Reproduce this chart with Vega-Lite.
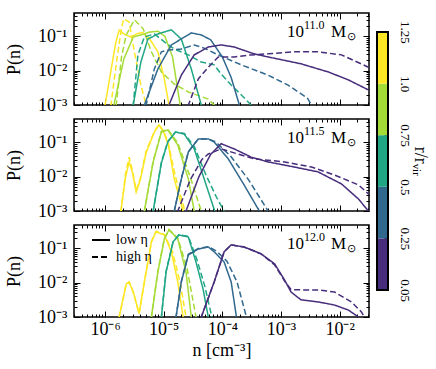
{
"$schema": "https://vega.github.io/schema/vega-lite/v6.json",
"background": "white",
"padding": {"left": 4, "top": 11, "right": 2, "bottom": 2},
"config": {
  "font": "Liberation Serif",
  "view": {"stroke": "black", "strokeWidth": 1.5},
  "axis": {"grid": false, "domain": false, "tickColor": "black", "labelColor": "black", "titleColor": "black", "titleFontWeight": "normal", "labelFont": "Liberation Serif", "titleFont": "Liberation Serif", "labelFlush": false, "labelOverlap": false, "tickWidth": 1, "minExtent": 0},
  "text": {"font": "Liberation Serif", "color": "black"}
},
"datasets": {"curves": [
{"m":"11.0","r":"1.0-1.25","eta":"low η","x":-6.03,"y":-3.3},{"m":"11.0","r":"1.0-1.25","eta":"low η","x":-6.0,"y":-3},{"m":"11.0","r":"1.0-1.25","eta":"low η","x":-5.9,"y":-2.0},{"m":"11.0","r":"1.0-1.25","eta":"low η","x":-5.82,"y":-1.2},{"m":"11.0","r":"1.0-1.25","eta":"low η","x":-5.76,"y":-0.82},{"m":"11.0","r":"1.0-1.25","eta":"low η","x":-5.66,"y":-0.95},{"m":"11.0","r":"1.0-1.25","eta":"low η","x":-5.56,"y":-1.02},{"m":"11.0","r":"1.0-1.25","eta":"low η","x":-5.45,"y":-0.92},{"m":"11.0","r":"1.0-1.25","eta":"low η","x":-5.36,"y":-0.89},{"m":"11.0","r":"1.0-1.25","eta":"low η","x":-5.25,"y":-1.05},{"m":"11.0","r":"1.0-1.25","eta":"low η","x":-5.1,"y":-1.45},{"m":"11.0","r":"1.0-1.25","eta":"low η","x":-4.99,"y":-2.24},{"m":"11.0","r":"1.0-1.25","eta":"low η","x":-4.91,"y":-3},{"m":"11.0","r":"1.0-1.25","eta":"low η","x":-4.89,"y":-3.3},
{"m":"11.0","r":"1.0-1.25","eta":"high η","x":-5.93,"y":-3.3},{"m":"11.0","r":"1.0-1.25","eta":"high η","x":-5.9,"y":-3},{"m":"11.0","r":"1.0-1.25","eta":"high η","x":-5.84,"y":-2.2},{"m":"11.0","r":"1.0-1.25","eta":"high η","x":-5.78,"y":-1.45},{"m":"11.0","r":"1.0-1.25","eta":"high η","x":-5.72,"y":-0.75},{"m":"11.0","r":"1.0-1.25","eta":"high η","x":-5.68,"y":-0.49},{"m":"11.0","r":"1.0-1.25","eta":"high η","x":-5.59,"y":-0.58},{"m":"11.0","r":"1.0-1.25","eta":"high η","x":-5.5,"y":-1.45},{"m":"11.0","r":"1.0-1.25","eta":"high η","x":-5.39,"y":-2.42},{"m":"11.0","r":"1.0-1.25","eta":"high η","x":-5.3,"y":-3},{"m":"11.0","r":"1.0-1.25","eta":"high η","x":-5.27,"y":-3.3},
{"m":"11.0","r":"0.75-1.0","eta":"low η","x":-5.87,"y":-3.3},{"m":"11.0","r":"0.75-1.0","eta":"low η","x":-5.85,"y":-3},{"m":"11.0","r":"0.75-1.0","eta":"low η","x":-5.68,"y":-1.66},{"m":"11.0","r":"0.75-1.0","eta":"low η","x":-5.52,"y":-1.02},{"m":"11.0","r":"0.75-1.0","eta":"low η","x":-5.39,"y":-0.96},{"m":"11.0","r":"0.75-1.0","eta":"low η","x":-5.25,"y":-0.88},{"m":"11.0","r":"0.75-1.0","eta":"low η","x":-5.1,"y":-0.85},{"m":"11.0","r":"0.75-1.0","eta":"low η","x":-4.98,"y":-1.0},{"m":"11.0","r":"0.75-1.0","eta":"low η","x":-4.85,"y":-1.6},{"m":"11.0","r":"0.75-1.0","eta":"low η","x":-4.72,"y":-3},{"m":"11.0","r":"0.75-1.0","eta":"low η","x":-4.7,"y":-3.3},
{"m":"11.0","r":"0.75-1.0","eta":"high η","x":-5.83,"y":-3.3},{"m":"11.0","r":"0.75-1.0","eta":"high η","x":-5.81,"y":-3},{"m":"11.0","r":"0.75-1.0","eta":"high η","x":-5.72,"y":-1.6},{"m":"11.0","r":"0.75-1.0","eta":"high η","x":-5.64,"y":-0.96},{"m":"11.0","r":"0.75-1.0","eta":"high η","x":-5.5,"y":-0.52},{"m":"11.0","r":"0.75-1.0","eta":"high η","x":-5.35,"y":-0.78},{"m":"11.0","r":"0.75-1.0","eta":"high η","x":-5.21,"y":-1.45},{"m":"11.0","r":"0.75-1.0","eta":"high η","x":-5.04,"y":-2.04},{"m":"11.0","r":"0.75-1.0","eta":"high η","x":-4.82,"y":-2.39},{"m":"11.0","r":"0.75-1.0","eta":"high η","x":-4.58,"y":-2.62},{"m":"11.0","r":"0.75-1.0","eta":"high η","x":-4.24,"y":-2.83},{"m":"11.0","r":"0.75-1.0","eta":"high η","x":-4.14,"y":-3},{"m":"11.0","r":"0.75-1.0","eta":"high η","x":-4.1,"y":-3.3},
{"m":"11.0","r":"0.5-0.75","eta":"low η","x":-5.54,"y":-3.3},{"m":"11.0","r":"0.5-0.75","eta":"low η","x":-5.52,"y":-3},{"m":"11.0","r":"0.5-0.75","eta":"low η","x":-5.39,"y":-1.75},{"m":"11.0","r":"0.5-0.75","eta":"low η","x":-5.27,"y":-1.08},{"m":"11.0","r":"0.5-0.75","eta":"low η","x":-5.1,"y":-0.93},{"m":"11.0","r":"0.5-0.75","eta":"low η","x":-4.87,"y":-0.81},{"m":"11.0","r":"0.5-0.75","eta":"low η","x":-4.7,"y":-1.08},{"m":"11.0","r":"0.5-0.75","eta":"low η","x":-4.53,"y":-1.95},{"m":"11.0","r":"0.5-0.75","eta":"low η","x":-4.36,"y":-3},{"m":"11.0","r":"0.5-0.75","eta":"low η","x":-4.33,"y":-3.3},
{"m":"11.0","r":"0.5-0.75","eta":"high η","x":-5.54,"y":-3.3},{"m":"11.0","r":"0.5-0.75","eta":"high η","x":-5.52,"y":-3},{"m":"11.0","r":"0.5-0.75","eta":"high η","x":-5.44,"y":-1.54},{"m":"11.0","r":"0.5-0.75","eta":"high η","x":-5.33,"y":-1.02},{"m":"11.0","r":"0.5-0.75","eta":"high η","x":-5.16,"y":-0.93},{"m":"11.0","r":"0.5-0.75","eta":"high η","x":-4.99,"y":-1.16},{"m":"11.0","r":"0.5-0.75","eta":"high η","x":-4.82,"y":-1.37},{"m":"11.0","r":"0.5-0.75","eta":"high η","x":-4.58,"y":-1.54},{"m":"11.0","r":"0.5-0.75","eta":"high η","x":-4.36,"y":-1.75},{"m":"11.0","r":"0.5-0.75","eta":"high η","x":-4.14,"y":-1.83},{"m":"11.0","r":"0.5-0.75","eta":"high η","x":-4.02,"y":-2.1},{"m":"11.0","r":"0.5-0.75","eta":"high η","x":-3.85,"y":-2.42},{"m":"11.0","r":"0.5-0.75","eta":"high η","x":-3.68,"y":-2.7},{"m":"11.0","r":"0.5-0.75","eta":"high η","x":-3.51,"y":-3},{"m":"11.0","r":"0.5-0.75","eta":"high η","x":-3.48,"y":-3.3},
{"m":"11.0","r":"0.25-0.5","eta":"low η","x":-5.35,"y":-3.3},{"m":"11.0","r":"0.25-0.5","eta":"low η","x":-5.33,"y":-3},{"m":"11.0","r":"0.25-0.5","eta":"low η","x":-5.1,"y":-1.95},{"m":"11.0","r":"0.25-0.5","eta":"low η","x":-4.87,"y":-1.25},{"m":"11.0","r":"0.25-0.5","eta":"low η","x":-4.53,"y":-0.9},{"m":"11.0","r":"0.25-0.5","eta":"low η","x":-4.36,"y":-0.96},{"m":"11.0","r":"0.25-0.5","eta":"low η","x":-4.2,"y":-1.1},{"m":"11.0","r":"0.25-0.5","eta":"low η","x":-4.0,"y":-1.6},{"m":"11.0","r":"0.25-0.5","eta":"low η","x":-3.85,"y":-2.2},{"m":"11.0","r":"0.25-0.5","eta":"low η","x":-3.71,"y":-3},{"m":"11.0","r":"0.25-0.5","eta":"low η","x":-3.68,"y":-3.3},
{"m":"11.0","r":"0.25-0.5","eta":"high η","x":-5.33,"y":-3.3},{"m":"11.0","r":"0.25-0.5","eta":"high η","x":-5.3,"y":-3},{"m":"11.0","r":"0.25-0.5","eta":"high η","x":-5.16,"y":-1.95},{"m":"11.0","r":"0.25-0.5","eta":"high η","x":-5.04,"y":-1.45},{"m":"11.0","r":"0.25-0.5","eta":"high η","x":-4.92,"y":-1.4},{"m":"11.0","r":"0.25-0.5","eta":"high η","x":-4.7,"y":-1.37},{"m":"11.0","r":"0.25-0.5","eta":"high η","x":-4.48,"y":-1.25},{"m":"11.0","r":"0.25-0.5","eta":"high η","x":-4.3,"y":-1.35},{"m":"11.0","r":"0.25-0.5","eta":"high η","x":-4.1,"y":-1.52},{"m":"11.0","r":"0.25-0.5","eta":"high η","x":-3.68,"y":-1.83},{"m":"11.0","r":"0.25-0.5","eta":"high η","x":-3.22,"y":-2.13},{"m":"11.0","r":"0.25-0.5","eta":"high η","x":-2.88,"y":-2.42},{"m":"11.0","r":"0.25-0.5","eta":"high η","x":-2.55,"y":-2.8},{"m":"11.0","r":"0.25-0.5","eta":"high η","x":-2.48,"y":-3},{"m":"11.0","r":"0.25-0.5","eta":"high η","x":-2.45,"y":-3.3},
{"m":"11.0","r":"0.05-0.25","eta":"low η","x":-4.93,"y":-3.3},{"m":"11.0","r":"0.05-0.25","eta":"low η","x":-4.91,"y":-3},{"m":"11.0","r":"0.05-0.25","eta":"low η","x":-4.7,"y":-2.13},{"m":"11.0","r":"0.05-0.25","eta":"low η","x":-4.48,"y":-1.54},{"m":"11.0","r":"0.05-0.25","eta":"low η","x":-4.24,"y":-1.31},{"m":"11.0","r":"0.05-0.25","eta":"low η","x":-4.02,"y":-1.25},{"m":"11.0","r":"0.05-0.25","eta":"low η","x":-3.8,"y":-1.31},{"m":"11.0","r":"0.05-0.25","eta":"low η","x":-3.46,"y":-1.51},{"m":"11.0","r":"0.05-0.25","eta":"low η","x":-3.22,"y":-1.6},{"m":"11.0","r":"0.05-0.25","eta":"low η","x":-2.66,"y":-1.8},{"m":"11.0","r":"0.05-0.25","eta":"low η","x":-2.19,"y":-2.04},{"m":"11.0","r":"0.05-0.25","eta":"low η","x":-1.85,"y":-2.27},{"m":"11.0","r":"0.05-0.25","eta":"low η","x":-1.51,"y":-2.56},{"m":"11.0","r":"0.05-0.25","eta":"low η","x":-1.45,"y":-2.6},
{"m":"11.0","r":"0.05-0.25","eta":"high η","x":-4.6,"y":-3.3},{"m":"11.0","r":"0.05-0.25","eta":"high η","x":-4.58,"y":-3},{"m":"11.0","r":"0.05-0.25","eta":"high η","x":-4.41,"y":-2.24},{"m":"11.0","r":"0.05-0.25","eta":"high η","x":-4.24,"y":-1.9},{"m":"11.0","r":"0.05-0.25","eta":"high η","x":-4.07,"y":-1.6},{"m":"11.0","r":"0.05-0.25","eta":"high η","x":-3.8,"y":-1.6},{"m":"11.0","r":"0.05-0.25","eta":"high η","x":-3.51,"y":-1.54},{"m":"11.0","r":"0.05-0.25","eta":"high η","x":-3.22,"y":-1.51},{"m":"11.0","r":"0.05-0.25","eta":"high η","x":-2.77,"y":-1.45},{"m":"11.0","r":"0.05-0.25","eta":"high η","x":-2.37,"y":-1.45},{"m":"11.0","r":"0.05-0.25","eta":"high η","x":-1.97,"y":-1.54},{"m":"11.0","r":"0.05-0.25","eta":"high η","x":-1.51,"y":-1.9},{"m":"11.0","r":"0.05-0.25","eta":"high η","x":-1.45,"y":-1.95},
{"m":"11.5","r":"1.0-1.25","eta":"low η","x":-5.75,"y":-3.3},{"m":"11.5","r":"1.0-1.25","eta":"low η","x":-5.73,"y":-3},{"m":"11.5","r":"1.0-1.25","eta":"low η","x":-5.65,"y":-2.0},{"m":"11.5","r":"1.0-1.25","eta":"low η","x":-5.59,"y":-1.57},{"m":"11.5","r":"1.0-1.25","eta":"low η","x":-5.53,"y":-1.9},{"m":"11.5","r":"1.0-1.25","eta":"low η","x":-5.47,"y":-2.45},{"m":"11.5","r":"1.0-1.25","eta":"low η","x":-5.4,"y":-2.1},{"m":"11.5","r":"1.0-1.25","eta":"low η","x":-5.3,"y":-1.3},{"m":"11.5","r":"1.0-1.25","eta":"low η","x":-5.16,"y":-0.7},{"m":"11.5","r":"1.0-1.25","eta":"low η","x":-5.08,"y":-0.49},{"m":"11.5","r":"1.0-1.25","eta":"low η","x":-4.99,"y":-0.75},{"m":"11.5","r":"1.0-1.25","eta":"low η","x":-4.92,"y":-1.08},{"m":"11.5","r":"1.0-1.25","eta":"low η","x":-4.82,"y":-2.07},{"m":"11.5","r":"1.0-1.25","eta":"low η","x":-4.67,"y":-3},{"m":"11.5","r":"1.0-1.25","eta":"low η","x":-4.64,"y":-3.3},
{"m":"11.5","r":"1.0-1.25","eta":"high η","x":-5.75,"y":-3.3},{"m":"11.5","r":"1.0-1.25","eta":"high η","x":-5.73,"y":-3},{"m":"11.5","r":"1.0-1.25","eta":"high η","x":-5.65,"y":-1.9},{"m":"11.5","r":"1.0-1.25","eta":"high η","x":-5.59,"y":-1.43},{"m":"11.5","r":"1.0-1.25","eta":"high η","x":-5.53,"y":-1.85},{"m":"11.5","r":"1.0-1.25","eta":"high η","x":-5.47,"y":-2.4},{"m":"11.5","r":"1.0-1.25","eta":"high η","x":-5.4,"y":-2.05},{"m":"11.5","r":"1.0-1.25","eta":"high η","x":-5.3,"y":-1.25},{"m":"11.5","r":"1.0-1.25","eta":"high η","x":-5.16,"y":-0.68},{"m":"11.5","r":"1.0-1.25","eta":"high η","x":-5.08,"y":-0.48},{"m":"11.5","r":"1.0-1.25","eta":"high η","x":-4.99,"y":-0.72},{"m":"11.5","r":"1.0-1.25","eta":"high η","x":-4.92,"y":-1.05},{"m":"11.5","r":"1.0-1.25","eta":"high η","x":-4.8,"y":-2.0},{"m":"11.5","r":"1.0-1.25","eta":"high η","x":-4.64,"y":-3},{"m":"11.5","r":"1.0-1.25","eta":"high η","x":-4.61,"y":-3.3},
{"m":"11.5","r":"0.75-1.0","eta":"low η","x":-5.35,"y":-3.3},{"m":"11.5","r":"0.75-1.0","eta":"low η","x":-5.33,"y":-3},{"m":"11.5","r":"0.75-1.0","eta":"low η","x":-5.18,"y":-1.57},{"m":"11.5","r":"0.75-1.0","eta":"low η","x":-5.04,"y":-0.7},{"m":"11.5","r":"0.75-1.0","eta":"low η","x":-4.93,"y":-0.64},{"m":"11.5","r":"0.75-1.0","eta":"low η","x":-4.76,"y":-1.08},{"m":"11.5","r":"0.75-1.0","eta":"low η","x":-4.58,"y":-2.07},{"m":"11.5","r":"0.75-1.0","eta":"low η","x":-4.48,"y":-3},{"m":"11.5","r":"0.75-1.0","eta":"low η","x":-4.45,"y":-3.3},
{"m":"11.5","r":"0.75-1.0","eta":"high η","x":-5.35,"y":-3.3},{"m":"11.5","r":"0.75-1.0","eta":"high η","x":-5.33,"y":-3},{"m":"11.5","r":"0.75-1.0","eta":"high η","x":-5.18,"y":-1.55},{"m":"11.5","r":"0.75-1.0","eta":"high η","x":-5.04,"y":-0.68},{"m":"11.5","r":"0.75-1.0","eta":"high η","x":-4.93,"y":-0.62},{"m":"11.5","r":"0.75-1.0","eta":"high η","x":-4.76,"y":-1.02},{"m":"11.5","r":"0.75-1.0","eta":"high η","x":-4.56,"y":-1.95},{"m":"11.5","r":"0.75-1.0","eta":"high η","x":-4.36,"y":-3},{"m":"11.5","r":"0.75-1.0","eta":"high η","x":-4.33,"y":-3.3},
{"m":"11.5","r":"0.5-0.75","eta":"low η","x":-5.2,"y":-3.3},{"m":"11.5","r":"0.5-0.75","eta":"low η","x":-5.18,"y":-3},{"m":"11.5","r":"0.5-0.75","eta":"low η","x":-5.04,"y":-1.6},{"m":"11.5","r":"0.5-0.75","eta":"low η","x":-4.93,"y":-0.99},{"m":"11.5","r":"0.5-0.75","eta":"low η","x":-4.8,"y":-0.7},{"m":"11.5","r":"0.5-0.75","eta":"low η","x":-4.65,"y":-0.76},{"m":"11.5","r":"0.5-0.75","eta":"low η","x":-4.48,"y":-1.19},{"m":"11.5","r":"0.5-0.75","eta":"low η","x":-4.31,"y":-2.07},{"m":"11.5","r":"0.5-0.75","eta":"low η","x":-4.14,"y":-2.95},{"m":"11.5","r":"0.5-0.75","eta":"low η","x":-4.07,"y":-3.3},
{"m":"11.5","r":"0.5-0.75","eta":"high η","x":-5.2,"y":-3.3},{"m":"11.5","r":"0.5-0.75","eta":"high η","x":-5.18,"y":-3},{"m":"11.5","r":"0.5-0.75","eta":"high η","x":-5.04,"y":-1.58},{"m":"11.5","r":"0.5-0.75","eta":"high η","x":-4.93,"y":-0.97},{"m":"11.5","r":"0.5-0.75","eta":"high η","x":-4.8,"y":-0.7},{"m":"11.5","r":"0.5-0.75","eta":"high η","x":-4.65,"y":-0.74},{"m":"11.5","r":"0.5-0.75","eta":"high η","x":-4.48,"y":-1.12},{"m":"11.5","r":"0.5-0.75","eta":"high η","x":-4.28,"y":-1.95},{"m":"11.5","r":"0.5-0.75","eta":"high η","x":-4.1,"y":-2.6},{"m":"11.5","r":"0.5-0.75","eta":"high η","x":-3.97,"y":-3},{"m":"11.5","r":"0.5-0.75","eta":"high η","x":-3.94,"y":-3.3},
{"m":"11.5","r":"0.25-0.5","eta":"low η","x":-4.84,"y":-3.3},{"m":"11.5","r":"0.25-0.5","eta":"low η","x":-4.82,"y":-3},{"m":"11.5","r":"0.25-0.5","eta":"low η","x":-4.7,"y":-2.07},{"m":"11.5","r":"0.25-0.5","eta":"low η","x":-4.58,"y":-1.28},{"m":"11.5","r":"0.25-0.5","eta":"low η","x":-4.41,"y":-0.9},{"m":"11.5","r":"0.25-0.5","eta":"low η","x":-4.24,"y":-0.9},{"m":"11.5","r":"0.25-0.5","eta":"low η","x":-4.14,"y":-0.99},{"m":"11.5","r":"0.25-0.5","eta":"low η","x":-3.9,"y":-1.48},{"m":"11.5","r":"0.25-0.5","eta":"low η","x":-3.63,"y":-2.24},{"m":"11.5","r":"0.25-0.5","eta":"low η","x":-3.37,"y":-3},{"m":"11.5","r":"0.25-0.5","eta":"low η","x":-3.34,"y":-3.3},
{"m":"11.5","r":"0.25-0.5","eta":"high η","x":-4.84,"y":-3.3},{"m":"11.5","r":"0.25-0.5","eta":"high η","x":-4.82,"y":-3},{"m":"11.5","r":"0.25-0.5","eta":"high η","x":-4.7,"y":-2.05},{"m":"11.5","r":"0.25-0.5","eta":"high η","x":-4.58,"y":-1.27},{"m":"11.5","r":"0.25-0.5","eta":"high η","x":-4.41,"y":-0.9},{"m":"11.5","r":"0.25-0.5","eta":"high η","x":-4.24,"y":-0.9},{"m":"11.5","r":"0.25-0.5","eta":"high η","x":-4.12,"y":-0.98},{"m":"11.5","r":"0.25-0.5","eta":"high η","x":-3.86,"y":-1.4},{"m":"11.5","r":"0.25-0.5","eta":"high η","x":-3.55,"y":-2.1},{"m":"11.5","r":"0.25-0.5","eta":"high η","x":-3.22,"y":-3},{"m":"11.5","r":"0.25-0.5","eta":"high η","x":-3.19,"y":-3.3},
{"m":"11.5","r":"0.05-0.25","eta":"low η","x":-4.64,"y":-3.3},{"m":"11.5","r":"0.05-0.25","eta":"low η","x":-4.62,"y":-3},{"m":"11.5","r":"0.05-0.25","eta":"low η","x":-4.4,"y":-2.0},{"m":"11.5","r":"0.05-0.25","eta":"low η","x":-4.2,"y":-1.35},{"m":"11.5","r":"0.05-0.25","eta":"low η","x":-4.02,"y":-1.04},{"m":"11.5","r":"0.05-0.25","eta":"low η","x":-3.8,"y":-1.19},{"m":"11.5","r":"0.05-0.25","eta":"low η","x":-3.51,"y":-1.43},{"m":"11.5","r":"0.05-0.25","eta":"low η","x":-3.22,"y":-1.57},{"m":"11.5","r":"0.05-0.25","eta":"low η","x":-2.77,"y":-1.72},{"m":"11.5","r":"0.05-0.25","eta":"low η","x":-2.37,"y":-1.86},{"m":"11.5","r":"0.05-0.25","eta":"low η","x":-1.97,"y":-2.21},{"m":"11.5","r":"0.05-0.25","eta":"low η","x":-1.68,"y":-2.65},{"m":"11.5","r":"0.05-0.25","eta":"low η","x":-1.51,"y":-3},{"m":"11.5","r":"0.05-0.25","eta":"low η","x":-1.48,"y":-3.1},
{"m":"11.5","r":"0.05-0.25","eta":"high η","x":-4.78,"y":-3.3},{"m":"11.5","r":"0.05-0.25","eta":"high η","x":-4.76,"y":-3},{"m":"11.5","r":"0.05-0.25","eta":"high η","x":-4.55,"y":-2.1},{"m":"11.5","r":"0.05-0.25","eta":"high η","x":-4.35,"y":-1.5},{"m":"11.5","r":"0.05-0.25","eta":"high η","x":-4.24,"y":-1.34},{"m":"11.5","r":"0.05-0.25","eta":"high η","x":-4.02,"y":-1.19},{"m":"11.5","r":"0.05-0.25","eta":"high η","x":-3.68,"y":-1.37},{"m":"11.5","r":"0.05-0.25","eta":"high η","x":-3.46,"y":-1.48},{"m":"11.5","r":"0.05-0.25","eta":"high η","x":-2.94,"y":-1.57},{"m":"11.5","r":"0.05-0.25","eta":"high η","x":-2.48,"y":-1.72},{"m":"11.5","r":"0.05-0.25","eta":"high η","x":-2.09,"y":-1.95},{"m":"11.5","r":"0.05-0.25","eta":"high η","x":-1.68,"y":-2.24},{"m":"11.5","r":"0.05-0.25","eta":"high η","x":-1.51,"y":-2.5},{"m":"11.5","r":"0.05-0.25","eta":"high η","x":-1.45,"y":-2.6},
{"m":"12.0","r":"1.0-1.25","eta":"low η","x":-5.78,"y":-3.3},{"m":"12.0","r":"1.0-1.25","eta":"low η","x":-5.76,"y":-3},{"m":"12.0","r":"1.0-1.25","eta":"low η","x":-5.64,"y":-2.04},{"m":"12.0","r":"1.0-1.25","eta":"low η","x":-5.59,"y":-1.98},{"m":"12.0","r":"1.0-1.25","eta":"low η","x":-5.52,"y":-2.27},{"m":"12.0","r":"1.0-1.25","eta":"low η","x":-5.42,"y":-2.9},{"m":"12.0","r":"1.0-1.25","eta":"low η","x":-5.33,"y":-1.98},{"m":"12.0","r":"1.0-1.25","eta":"low η","x":-5.21,"y":-0.81},{"m":"12.0","r":"1.0-1.25","eta":"low η","x":-5.13,"y":-0.52},{"m":"12.0","r":"1.0-1.25","eta":"low η","x":-4.99,"y":-0.61},{"m":"12.0","r":"1.0-1.25","eta":"low η","x":-4.87,"y":-1.1},{"m":"12.0","r":"1.0-1.25","eta":"low η","x":-4.76,"y":-1.98},{"m":"12.0","r":"1.0-1.25","eta":"low η","x":-4.67,"y":-3},{"m":"12.0","r":"1.0-1.25","eta":"low η","x":-4.64,"y":-3.3},
{"m":"12.0","r":"1.0-1.25","eta":"high η","x":-5.78,"y":-3.3},{"m":"12.0","r":"1.0-1.25","eta":"high η","x":-5.76,"y":-3},{"m":"12.0","r":"1.0-1.25","eta":"high η","x":-5.64,"y":-2.04},{"m":"12.0","r":"1.0-1.25","eta":"high η","x":-5.59,"y":-1.98},{"m":"12.0","r":"1.0-1.25","eta":"high η","x":-5.52,"y":-2.27},{"m":"12.0","r":"1.0-1.25","eta":"high η","x":-5.42,"y":-2.9},{"m":"12.0","r":"1.0-1.25","eta":"high η","x":-5.33,"y":-1.98},{"m":"12.0","r":"1.0-1.25","eta":"high η","x":-5.21,"y":-0.8},{"m":"12.0","r":"1.0-1.25","eta":"high η","x":-5.13,"y":-0.5},{"m":"12.0","r":"1.0-1.25","eta":"high η","x":-4.99,"y":-0.6},{"m":"12.0","r":"1.0-1.25","eta":"high η","x":-4.85,"y":-1.1},{"m":"12.0","r":"1.0-1.25","eta":"high η","x":-4.72,"y":-2.0},{"m":"12.0","r":"1.0-1.25","eta":"high η","x":-4.62,"y":-3},{"m":"12.0","r":"1.0-1.25","eta":"high η","x":-4.59,"y":-3.3},
{"m":"12.0","r":"0.75-1.0","eta":"low η","x":-5.23,"y":-3.3},{"m":"12.0","r":"0.75-1.0","eta":"low η","x":-5.21,"y":-3},{"m":"12.0","r":"0.75-1.0","eta":"low η","x":-5.1,"y":-1.69},{"m":"12.0","r":"0.75-1.0","eta":"low η","x":-4.99,"y":-0.73},{"m":"12.0","r":"0.75-1.0","eta":"low η","x":-4.91,"y":-0.46},{"m":"12.0","r":"0.75-1.0","eta":"low η","x":-4.76,"y":-0.73},{"m":"12.0","r":"0.75-1.0","eta":"low η","x":-4.62,"y":-1.69},{"m":"12.0","r":"0.75-1.0","eta":"low η","x":-4.53,"y":-3},{"m":"12.0","r":"0.75-1.0","eta":"low η","x":-4.5,"y":-3.3},
{"m":"12.0","r":"0.75-1.0","eta":"high η","x":-5.23,"y":-3.3},{"m":"12.0","r":"0.75-1.0","eta":"high η","x":-5.21,"y":-3},{"m":"12.0","r":"0.75-1.0","eta":"high η","x":-5.1,"y":-1.67},{"m":"12.0","r":"0.75-1.0","eta":"high η","x":-4.99,"y":-0.72},{"m":"12.0","r":"0.75-1.0","eta":"high η","x":-4.91,"y":-0.45},{"m":"12.0","r":"0.75-1.0","eta":"high η","x":-4.76,"y":-0.7},{"m":"12.0","r":"0.75-1.0","eta":"high η","x":-4.6,"y":-1.6},{"m":"12.0","r":"0.75-1.0","eta":"high η","x":-4.45,"y":-3},{"m":"12.0","r":"0.75-1.0","eta":"high η","x":-4.42,"y":-3.3},
{"m":"12.0","r":"0.5-0.75","eta":"low η","x":-5.06,"y":-3.3},{"m":"12.0","r":"0.5-0.75","eta":"low η","x":-5.04,"y":-3},{"m":"12.0","r":"0.5-0.75","eta":"low η","x":-4.96,"y":-1.69},{"m":"12.0","r":"0.5-0.75","eta":"low η","x":-4.84,"y":-0.81},{"m":"12.0","r":"0.5-0.75","eta":"low η","x":-4.74,"y":-0.61},{"m":"12.0","r":"0.5-0.75","eta":"low η","x":-4.58,"y":-0.67},{"m":"12.0","r":"0.5-0.75","eta":"low η","x":-4.45,"y":-1.4},{"m":"12.0","r":"0.5-0.75","eta":"low η","x":-4.33,"y":-2.18},{"m":"12.0","r":"0.5-0.75","eta":"low η","x":-4.24,"y":-3},{"m":"12.0","r":"0.5-0.75","eta":"low η","x":-4.21,"y":-3.3},
{"m":"12.0","r":"0.5-0.75","eta":"high η","x":-5.06,"y":-3.3},{"m":"12.0","r":"0.5-0.75","eta":"high η","x":-5.04,"y":-3},{"m":"12.0","r":"0.5-0.75","eta":"high η","x":-4.96,"y":-1.67},{"m":"12.0","r":"0.5-0.75","eta":"high η","x":-4.84,"y":-0.8},{"m":"12.0","r":"0.5-0.75","eta":"high η","x":-4.74,"y":-0.6},{"m":"12.0","r":"0.5-0.75","eta":"high η","x":-4.58,"y":-0.65},{"m":"12.0","r":"0.5-0.75","eta":"high η","x":-4.43,"y":-1.35},{"m":"12.0","r":"0.5-0.75","eta":"high η","x":-4.3,"y":-2.1},{"m":"12.0","r":"0.5-0.75","eta":"high η","x":-4.18,"y":-3},{"m":"12.0","r":"0.5-0.75","eta":"high η","x":-4.15,"y":-3.3},
{"m":"12.0","r":"0.25-0.5","eta":"low η","x":-4.81,"y":-3.3},{"m":"12.0","r":"0.25-0.5","eta":"low η","x":-4.79,"y":-3},{"m":"12.0","r":"0.25-0.5","eta":"low η","x":-4.7,"y":-1.98},{"m":"12.0","r":"0.25-0.5","eta":"low η","x":-4.58,"y":-1.19},{"m":"12.0","r":"0.25-0.5","eta":"low η","x":-4.41,"y":-1.02},{"m":"12.0","r":"0.25-0.5","eta":"low η","x":-4.24,"y":-0.96},{"m":"12.0","r":"0.25-0.5","eta":"low η","x":-4.14,"y":-1.1},{"m":"12.0","r":"0.25-0.5","eta":"low η","x":-3.97,"y":-1.4},{"m":"12.0","r":"0.25-0.5","eta":"low η","x":-3.85,"y":-1.98},{"m":"12.0","r":"0.25-0.5","eta":"low η","x":-3.76,"y":-3},{"m":"12.0","r":"0.25-0.5","eta":"low η","x":-3.73,"y":-3.3},
{"m":"12.0","r":"0.25-0.5","eta":"high η","x":-4.81,"y":-3.3},{"m":"12.0","r":"0.25-0.5","eta":"high η","x":-4.79,"y":-3},{"m":"12.0","r":"0.25-0.5","eta":"high η","x":-4.7,"y":-1.96},{"m":"12.0","r":"0.25-0.5","eta":"high η","x":-4.58,"y":-1.17},{"m":"12.0","r":"0.25-0.5","eta":"high η","x":-4.41,"y":-1.0},{"m":"12.0","r":"0.25-0.5","eta":"high η","x":-4.24,"y":-0.95},{"m":"12.0","r":"0.25-0.5","eta":"high η","x":-4.1,"y":-1.08},{"m":"12.0","r":"0.25-0.5","eta":"high η","x":-3.92,"y":-1.38},{"m":"12.0","r":"0.25-0.5","eta":"high η","x":-3.75,"y":-1.98},{"m":"12.0","r":"0.25-0.5","eta":"high η","x":-3.59,"y":-3},{"m":"12.0","r":"0.25-0.5","eta":"high η","x":-3.56,"y":-3.3},
{"m":"12.0","r":"0.05-0.25","eta":"low η","x":-4.38,"y":-3.3},{"m":"12.0","r":"0.05-0.25","eta":"low η","x":-4.36,"y":-3},{"m":"12.0","r":"0.05-0.25","eta":"low η","x":-4.14,"y":-1.98},{"m":"12.0","r":"0.05-0.25","eta":"low η","x":-3.97,"y":-1.1},{"m":"12.0","r":"0.05-0.25","eta":"low η","x":-3.85,"y":-0.9},{"m":"12.0","r":"0.05-0.25","eta":"low η","x":-3.63,"y":-0.96},{"m":"12.0","r":"0.05-0.25","eta":"low η","x":-3.34,"y":-1.16},{"m":"12.0","r":"0.05-0.25","eta":"low η","x":-3.11,"y":-1.45},{"m":"12.0","r":"0.05-0.25","eta":"low η","x":-2.94,"y":-1.92},{"m":"12.0","r":"0.05-0.25","eta":"low η","x":-2.83,"y":-2.27},{"m":"12.0","r":"0.05-0.25","eta":"low η","x":-2.66,"y":-2.5},{"m":"12.0","r":"0.05-0.25","eta":"low η","x":-2.37,"y":-2.56},{"m":"12.0","r":"0.05-0.25","eta":"low η","x":-2.09,"y":-2.65},{"m":"12.0","r":"0.05-0.25","eta":"low η","x":-1.85,"y":-2.8},{"m":"12.0","r":"0.05-0.25","eta":"low η","x":-1.68,"y":-3},{"m":"12.0","r":"0.05-0.25","eta":"low η","x":-1.65,"y":-3.3},
{"m":"12.0","r":"0.05-0.25","eta":"high η","x":-4.38,"y":-3.3},{"m":"12.0","r":"0.05-0.25","eta":"high η","x":-4.36,"y":-3},{"m":"12.0","r":"0.05-0.25","eta":"high η","x":-4.14,"y":-1.98},{"m":"12.0","r":"0.05-0.25","eta":"high η","x":-3.97,"y":-1.1},{"m":"12.0","r":"0.05-0.25","eta":"high η","x":-3.85,"y":-0.9},{"m":"12.0","r":"0.05-0.25","eta":"high η","x":-3.63,"y":-0.96},{"m":"12.0","r":"0.05-0.25","eta":"high η","x":-3.34,"y":-1.16},{"m":"12.0","r":"0.05-0.25","eta":"high η","x":-3.11,"y":-1.48},{"m":"12.0","r":"0.05-0.25","eta":"high η","x":-2.94,"y":-1.95},{"m":"12.0","r":"0.05-0.25","eta":"high η","x":-2.83,"y":-2.2},{"m":"12.0","r":"0.05-0.25","eta":"high η","x":-2.66,"y":-2.21},{"m":"12.0","r":"0.05-0.25","eta":"high η","x":-2.37,"y":-2.21},{"m":"12.0","r":"0.05-0.25","eta":"high η","x":-2.09,"y":-2.27},{"m":"12.0","r":"0.05-0.25","eta":"high η","x":-1.8,"y":-2.56},{"m":"12.0","r":"0.05-0.25","eta":"high η","x":-1.63,"y":-2.85},{"m":"12.0","r":"0.05-0.25","eta":"high η","x":-1.58,"y":-3},{"m":"12.0","r":"0.05-0.25","eta":"high η","x":-1.55,"y":-3.3}
]},
"spacing": 5,
"resolve": {"legend": {"strokeDash": "independent", "color": "independent"}},
"hconcat": [
{
"spacing": 14,
"bounds": "flush",
"resolve": {"legend": {"strokeDash": "independent", "color": "independent"}},
"vconcat": [
{
"width": 295, "height": 92,
"resolve": {"axis": {"x": "independent", "y": "independent"}},
"layer": [
{"data": {"name": "curves"}, "transform": [{"filter": "datum.m == '11.0'"}],
 "mark": {"type": "line", "strokeWidth": 1.5, "clip": true, "color": "black"},
 "encoding": {
  "x": {"field": "x", "type": "quantitative", "scale": {"domain": [-6.53, -1.5], "nice": false}, "axis": {"orient": "bottom", "offset": -6, "tickSize": 6, "title": null, "labels": false, "values": [-6,-5,-4,-3,-2]}},
  "y": {"field": "y", "type": "quantitative", "scale": {"domain": [-3, -0.32], "nice": false}, "axis": {"orient": "left", "offset": -6, "tickSize": 6, "values": [-3,-2,-1], "labelExpr": "'10' + ['⁻⁶','⁻⁵','⁻⁴','⁻³','⁻²','⁻¹'][datum.value + 6]", "labelFontSize": 18, "labelPadding": 7, "title": "P(n)", "titleFontSize": 18, "titlePadding": 14}},
  "color": {"field": "r", "type": "nominal", "scale": {"domain": ["0.05-0.25","0.25-0.5","0.5-0.75","0.75-1.0","1.0-1.25"], "range": ["#472d7b","#31688e","#21a685","#a5db36","#fde725"]}, "legend": null},
  "strokeDash": {"field": "eta", "type": "nominal", "scale": {"domain": ["low η","high η"], "range": [[1,0],[6,3]]}, "legend": null}
 }},
{"data": {"name": "curves"}, "transform": [{"filter": "datum.m == '11.0'"}],
 "mark": {"type": "line", "opacity": 0, "clip": true},
 "encoding": {
  "x": {"field": "x", "type": "quantitative", "scale": {"domain": [-6.53, -1.5], "nice": false}, "axis": {"orient": "bottom", "offset": -3, "tickSize": 3, "title": null, "labels": false, "values": [-6.52288,-6.39794,-6.30103,-6.22185,-6.1549,-6.09691,-6.04576,-5.69897,-5.52288,-5.39794,-5.30103,-5.22185,-5.1549,-5.09691,-5.04576,-4.69897,-4.52288,-4.39794,-4.30103,-4.22185,-4.1549,-4.09691,-4.04576,-3.69897,-3.52288,-3.39794,-3.30103,-3.22185,-3.1549,-3.09691,-3.04576,-2.69897,-2.52288,-2.39794,-2.30103,-2.22185,-2.1549,-2.09691,-2.04576,-1.69897,-1.52288]}},
  "y": {"field": "y", "type": "quantitative", "scale": {"domain": [-3, -0.32], "nice": false}, "axis": {"orient": "left", "offset": -3, "tickSize": 3, "title": null, "labels": false, "values": [-2.69897,-2.52288,-2.39794,-2.30103,-2.22185,-2.1549,-2.09691,-2.04576,-1.69897,-1.52288,-1.39794,-1.30103,-1.22185,-1.1549,-1.09691,-1.04576,-0.69897,-0.52288,-0.39794]}}
 }},
{"data": {"name": "curves"}, "transform": [{"filter": "datum.m == '11.0'"}],
 "mark": {"type": "line", "opacity": 0, "clip": true},
 "encoding": {
  "x": {"field": "x", "type": "quantitative", "scale": {"domain": [-6.53, -1.5], "nice": false}, "axis": {"orient": "top", "offset": -6, "tickSize": 6, "title": null, "labels": false, "values": [-6,-5,-4,-3,-2]}},
  "y": {"field": "y", "type": "quantitative", "scale": {"domain": [-3, -0.32], "nice": false}, "axis": {"orient": "right", "offset": -6, "tickSize": 6, "title": null, "labels": false, "values": [-3,-2,-1]}}
 }},
{"data": {"name": "curves"}, "transform": [{"filter": "datum.m == '11.0'"}],
 "mark": {"type": "line", "opacity": 0, "clip": true},
 "encoding": {
  "x": {"field": "x", "type": "quantitative", "scale": {"domain": [-6.53, -1.5], "nice": false}, "axis": {"orient": "top", "offset": -3, "tickSize": 3, "title": null, "labels": false, "values": [-6.52288,-6.39794,-6.30103,-6.22185,-6.1549,-6.09691,-6.04576,-5.69897,-5.52288,-5.39794,-5.30103,-5.22185,-5.1549,-5.09691,-5.04576,-4.69897,-4.52288,-4.39794,-4.30103,-4.22185,-4.1549,-4.09691,-4.04576,-3.69897,-3.52288,-3.39794,-3.30103,-3.22185,-3.1549,-3.09691,-3.04576,-2.69897,-2.52288,-2.39794,-2.30103,-2.22185,-2.1549,-2.09691,-2.04576,-1.69897,-1.52288]}},
  "y": {"field": "y", "type": "quantitative", "scale": {"domain": [-3, -0.32], "nice": false}, "axis": {"orient": "right", "offset": -3, "tickSize": 3, "title": null, "labels": false, "values": [-2.69897,-2.52288,-2.39794,-2.30103,-2.22185,-2.1549,-2.09691,-2.04576,-1.69897,-1.52288,-1.39794,-1.30103,-1.22185,-1.1549,-1.09691,-1.04576,-0.69897,-0.52288,-0.39794]}}
 }},
{"data": {"values": [{"m": "11.0"}]}, "mark": {"type": "text", "text": "10", "align": "left", "baseline": "alphabetic", "fontSize": 17},
 "encoding": {"x": {"datum": -2.9, "type": "quantitative", "axis": null}, "y": {"datum": -1.02, "type": "quantitative", "axis": null}}},
{"data": {"values": [{"m": "11.0"}]}, "mark": {"type": "text", "align": "left", "baseline": "alphabetic", "fontSize": 12, "dx": 17, "dy": -8},
 "encoding": {"text": {"field": "m"}, "x": {"datum": -2.9, "type": "quantitative", "axis": null}, "y": {"datum": -1.02, "type": "quantitative", "axis": null}}},
{"data": {"values": [{"m": "11.0"}]}, "mark": {"type": "text", "text": "M", "align": "left", "baseline": "alphabetic", "fontSize": 17, "dx": 44},
 "encoding": {"x": {"datum": -2.9, "type": "quantitative", "axis": null}, "y": {"datum": -1.02, "type": "quantitative", "axis": null}}},
{"data": {"values": [{"m": "11.0"}]}, "mark": {"type": "text", "text": "⊙", "align": "left", "baseline": "alphabetic", "fontSize": 11, "dx": 60, "dy": 3},
 "encoding": {"x": {"datum": -2.9, "type": "quantitative", "axis": null}, "y": {"datum": -1.02, "type": "quantitative", "axis": null}}}
]
},
{
"width": 295, "height": 92,
"resolve": {"axis": {"x": "independent", "y": "independent"}},
"layer": [
{"data": {"name": "curves"}, "transform": [{"filter": "datum.m == '11.5'"}],
 "mark": {"type": "line", "strokeWidth": 1.5, "clip": true, "color": "black"},
 "encoding": {
  "x": {"field": "x", "type": "quantitative", "scale": {"domain": [-6.53, -1.5], "nice": false}, "axis": {"orient": "bottom", "offset": -6, "tickSize": 6, "title": null, "labels": false, "values": [-6,-5,-4,-3,-2]}},
  "y": {"field": "y", "type": "quantitative", "scale": {"domain": [-3, -0.32], "nice": false}, "axis": {"orient": "left", "offset": -6, "tickSize": 6, "values": [-3,-2,-1], "labelExpr": "'10' + ['⁻⁶','⁻⁵','⁻⁴','⁻³','⁻²','⁻¹'][datum.value + 6]", "labelFontSize": 18, "labelPadding": 7, "title": "P(n)", "titleFontSize": 18, "titlePadding": 14}},
  "color": {"field": "r", "type": "nominal", "scale": {"domain": ["0.05-0.25","0.25-0.5","0.5-0.75","0.75-1.0","1.0-1.25"], "range": ["#472d7b","#31688e","#21a685","#a5db36","#fde725"]}, "legend": null},
  "strokeDash": {"field": "eta", "type": "nominal", "scale": {"domain": ["low η","high η"], "range": [[1,0],[6,3]]}, "legend": null}
 }},
{"data": {"name": "curves"}, "transform": [{"filter": "datum.m == '11.5'"}],
 "mark": {"type": "line", "opacity": 0, "clip": true},
 "encoding": {
  "x": {"field": "x", "type": "quantitative", "scale": {"domain": [-6.53, -1.5], "nice": false}, "axis": {"orient": "bottom", "offset": -3, "tickSize": 3, "title": null, "labels": false, "values": [-6.52288,-6.39794,-6.30103,-6.22185,-6.1549,-6.09691,-6.04576,-5.69897,-5.52288,-5.39794,-5.30103,-5.22185,-5.1549,-5.09691,-5.04576,-4.69897,-4.52288,-4.39794,-4.30103,-4.22185,-4.1549,-4.09691,-4.04576,-3.69897,-3.52288,-3.39794,-3.30103,-3.22185,-3.1549,-3.09691,-3.04576,-2.69897,-2.52288,-2.39794,-2.30103,-2.22185,-2.1549,-2.09691,-2.04576,-1.69897,-1.52288]}},
  "y": {"field": "y", "type": "quantitative", "scale": {"domain": [-3, -0.32], "nice": false}, "axis": {"orient": "left", "offset": -3, "tickSize": 3, "title": null, "labels": false, "values": [-2.69897,-2.52288,-2.39794,-2.30103,-2.22185,-2.1549,-2.09691,-2.04576,-1.69897,-1.52288,-1.39794,-1.30103,-1.22185,-1.1549,-1.09691,-1.04576,-0.69897,-0.52288,-0.39794]}}
 }},
{"data": {"name": "curves"}, "transform": [{"filter": "datum.m == '11.5'"}],
 "mark": {"type": "line", "opacity": 0, "clip": true},
 "encoding": {
  "x": {"field": "x", "type": "quantitative", "scale": {"domain": [-6.53, -1.5], "nice": false}, "axis": {"orient": "top", "offset": -6, "tickSize": 6, "title": null, "labels": false, "values": [-6,-5,-4,-3,-2]}},
  "y": {"field": "y", "type": "quantitative", "scale": {"domain": [-3, -0.32], "nice": false}, "axis": {"orient": "right", "offset": -6, "tickSize": 6, "title": null, "labels": false, "values": [-3,-2,-1]}}
 }},
{"data": {"name": "curves"}, "transform": [{"filter": "datum.m == '11.5'"}],
 "mark": {"type": "line", "opacity": 0, "clip": true},
 "encoding": {
  "x": {"field": "x", "type": "quantitative", "scale": {"domain": [-6.53, -1.5], "nice": false}, "axis": {"orient": "top", "offset": -3, "tickSize": 3, "title": null, "labels": false, "values": [-6.52288,-6.39794,-6.30103,-6.22185,-6.1549,-6.09691,-6.04576,-5.69897,-5.52288,-5.39794,-5.30103,-5.22185,-5.1549,-5.09691,-5.04576,-4.69897,-4.52288,-4.39794,-4.30103,-4.22185,-4.1549,-4.09691,-4.04576,-3.69897,-3.52288,-3.39794,-3.30103,-3.22185,-3.1549,-3.09691,-3.04576,-2.69897,-2.52288,-2.39794,-2.30103,-2.22185,-2.1549,-2.09691,-2.04576,-1.69897,-1.52288]}},
  "y": {"field": "y", "type": "quantitative", "scale": {"domain": [-3, -0.32], "nice": false}, "axis": {"orient": "right", "offset": -3, "tickSize": 3, "title": null, "labels": false, "values": [-2.69897,-2.52288,-2.39794,-2.30103,-2.22185,-2.1549,-2.09691,-2.04576,-1.69897,-1.52288,-1.39794,-1.30103,-1.22185,-1.1549,-1.09691,-1.04576,-0.69897,-0.52288,-0.39794]}}
 }},
{"data": {"values": [{"m": "11.5"}]}, "mark": {"type": "text", "text": "10", "align": "left", "baseline": "alphabetic", "fontSize": 17},
 "encoding": {"x": {"datum": -2.9, "type": "quantitative", "axis": null}, "y": {"datum": -1.02, "type": "quantitative", "axis": null}}},
{"data": {"values": [{"m": "11.5"}]}, "mark": {"type": "text", "align": "left", "baseline": "alphabetic", "fontSize": 12, "dx": 17, "dy": -8},
 "encoding": {"text": {"field": "m"}, "x": {"datum": -2.9, "type": "quantitative", "axis": null}, "y": {"datum": -1.02, "type": "quantitative", "axis": null}}},
{"data": {"values": [{"m": "11.5"}]}, "mark": {"type": "text", "text": "M", "align": "left", "baseline": "alphabetic", "fontSize": 17, "dx": 44},
 "encoding": {"x": {"datum": -2.9, "type": "quantitative", "axis": null}, "y": {"datum": -1.02, "type": "quantitative", "axis": null}}},
{"data": {"values": [{"m": "11.5"}]}, "mark": {"type": "text", "text": "⊙", "align": "left", "baseline": "alphabetic", "fontSize": 11, "dx": 60, "dy": 3},
 "encoding": {"x": {"datum": -2.9, "type": "quantitative", "axis": null}, "y": {"datum": -1.02, "type": "quantitative", "axis": null}}}
]
},
{
"width": 295, "height": 92,
"resolve": {"axis": {"x": "independent", "y": "independent"}},
"layer": [
{"data": {"name": "curves"}, "transform": [{"filter": "datum.m == '12.0'"}],
 "mark": {"type": "line", "strokeWidth": 1.5, "clip": true, "color": "black"},
 "encoding": {
  "x": {"field": "x", "type": "quantitative", "scale": {"domain": [-6.53, -1.5], "nice": false}, "axis": {"orient": "bottom", "offset": -6, "tickSize": 6, "values": [-6,-5,-4,-3,-2], "labelExpr": "'10' + ['⁻⁶','⁻⁵','⁻⁴','⁻³','⁻²','⁻¹'][datum.value + 6]", "labelFontSize": 18, "labelPadding": 3, "title": "n [cm⁻³]", "titleFontSize": 18, "titlePadding": 3}},
  "y": {"field": "y", "type": "quantitative", "scale": {"domain": [-3, -0.32], "nice": false}, "axis": {"orient": "left", "offset": -6, "tickSize": 6, "values": [-3,-2,-1], "labelExpr": "'10' + ['⁻⁶','⁻⁵','⁻⁴','⁻³','⁻²','⁻¹'][datum.value + 6]", "labelFontSize": 18, "labelPadding": 7, "title": "P(n)", "titleFontSize": 18, "titlePadding": 14}},
  "color": {"field": "r", "type": "nominal", "scale": {"domain": ["0.05-0.25","0.25-0.5","0.5-0.75","0.75-1.0","1.0-1.25"], "range": ["#472d7b","#31688e","#21a685","#a5db36","#fde725"]}, "legend": null},
  "strokeDash": {"field": "eta", "type": "nominal", "scale": {"domain": ["low η","high η"], "range": [[1,0],[6,3]]}, "legend": {"orient": "none", "legendX": 17, "legendY": 5, "title": null, "symbolType": "stroke", "symbolSize": 324, "symbolStrokeWidth": 2, "symbolStrokeColor": "black", "labelFont": "Liberation Serif", "labelFontSize": 14, "labelColor": "black", "rowPadding": 0, "labelOffset": 5}}
 }},
{"data": {"name": "curves"}, "transform": [{"filter": "datum.m == '12.0'"}],
 "mark": {"type": "line", "opacity": 0, "clip": true},
 "encoding": {
  "x": {"field": "x", "type": "quantitative", "scale": {"domain": [-6.53, -1.5], "nice": false}, "axis": {"orient": "bottom", "offset": -3, "tickSize": 3, "title": null, "labels": false, "values": [-6.52288,-6.39794,-6.30103,-6.22185,-6.1549,-6.09691,-6.04576,-5.69897,-5.52288,-5.39794,-5.30103,-5.22185,-5.1549,-5.09691,-5.04576,-4.69897,-4.52288,-4.39794,-4.30103,-4.22185,-4.1549,-4.09691,-4.04576,-3.69897,-3.52288,-3.39794,-3.30103,-3.22185,-3.1549,-3.09691,-3.04576,-2.69897,-2.52288,-2.39794,-2.30103,-2.22185,-2.1549,-2.09691,-2.04576,-1.69897,-1.52288]}},
  "y": {"field": "y", "type": "quantitative", "scale": {"domain": [-3, -0.32], "nice": false}, "axis": {"orient": "left", "offset": -3, "tickSize": 3, "title": null, "labels": false, "values": [-2.69897,-2.52288,-2.39794,-2.30103,-2.22185,-2.1549,-2.09691,-2.04576,-1.69897,-1.52288,-1.39794,-1.30103,-1.22185,-1.1549,-1.09691,-1.04576,-0.69897,-0.52288,-0.39794]}}
 }},
{"data": {"name": "curves"}, "transform": [{"filter": "datum.m == '12.0'"}],
 "mark": {"type": "line", "opacity": 0, "clip": true},
 "encoding": {
  "x": {"field": "x", "type": "quantitative", "scale": {"domain": [-6.53, -1.5], "nice": false}, "axis": {"orient": "top", "offset": -6, "tickSize": 6, "title": null, "labels": false, "values": [-6,-5,-4,-3,-2]}},
  "y": {"field": "y", "type": "quantitative", "scale": {"domain": [-3, -0.32], "nice": false}, "axis": {"orient": "right", "offset": -6, "tickSize": 6, "title": null, "labels": false, "values": [-3,-2,-1]}}
 }},
{"data": {"name": "curves"}, "transform": [{"filter": "datum.m == '12.0'"}],
 "mark": {"type": "line", "opacity": 0, "clip": true},
 "encoding": {
  "x": {"field": "x", "type": "quantitative", "scale": {"domain": [-6.53, -1.5], "nice": false}, "axis": {"orient": "top", "offset": -3, "tickSize": 3, "title": null, "labels": false, "values": [-6.52288,-6.39794,-6.30103,-6.22185,-6.1549,-6.09691,-6.04576,-5.69897,-5.52288,-5.39794,-5.30103,-5.22185,-5.1549,-5.09691,-5.04576,-4.69897,-4.52288,-4.39794,-4.30103,-4.22185,-4.1549,-4.09691,-4.04576,-3.69897,-3.52288,-3.39794,-3.30103,-3.22185,-3.1549,-3.09691,-3.04576,-2.69897,-2.52288,-2.39794,-2.30103,-2.22185,-2.1549,-2.09691,-2.04576,-1.69897,-1.52288]}},
  "y": {"field": "y", "type": "quantitative", "scale": {"domain": [-3, -0.32], "nice": false}, "axis": {"orient": "right", "offset": -3, "tickSize": 3, "title": null, "labels": false, "values": [-2.69897,-2.52288,-2.39794,-2.30103,-2.22185,-2.1549,-2.09691,-2.04576,-1.69897,-1.52288,-1.39794,-1.30103,-1.22185,-1.1549,-1.09691,-1.04576,-0.69897,-0.52288,-0.39794]}}
 }},
{"data": {"values": [{"m": "12.0"}]}, "mark": {"type": "text", "text": "10", "align": "left", "baseline": "alphabetic", "fontSize": 17},
 "encoding": {"x": {"datum": -2.9, "type": "quantitative", "axis": null}, "y": {"datum": -1.02, "type": "quantitative", "axis": null}}},
{"data": {"values": [{"m": "12.0"}]}, "mark": {"type": "text", "align": "left", "baseline": "alphabetic", "fontSize": 12, "dx": 17, "dy": -8},
 "encoding": {"text": {"field": "m"}, "x": {"datum": -2.9, "type": "quantitative", "axis": null}, "y": {"datum": -1.02, "type": "quantitative", "axis": null}}},
{"data": {"values": [{"m": "12.0"}]}, "mark": {"type": "text", "text": "M", "align": "left", "baseline": "alphabetic", "fontSize": 17, "dx": 44},
 "encoding": {"x": {"datum": -2.9, "type": "quantitative", "axis": null}, "y": {"datum": -1.02, "type": "quantitative", "axis": null}}},
{"data": {"values": [{"m": "12.0"}]}, "mark": {"type": "text", "text": "⊙", "align": "left", "baseline": "alphabetic", "fontSize": 11, "dx": 60, "dy": 3},
 "encoding": {"x": {"datum": -2.9, "type": "quantitative", "axis": null}, "y": {"datum": -1.02, "type": "quantitative", "axis": null}}}
]
}
]
},
{
"width": 11, "height": 304,
"view": {"stroke": null},
"data": {"values": [{"r": "0.05-0.25", "lo": 0, "hi": 1}, {"r": "0.25-0.5", "lo": 1, "hi": 2}, {"r": "0.5-0.75", "lo": 2, "hi": 3}, {"r": "0.75-1.0", "lo": 3, "hi": 4}, {"r": "1.0-1.25", "lo": 4, "hi": 5}]},
"layer": [
{"mark": {"type": "rect"},
 "encoding": {
  "y": {"field": "lo", "type": "quantitative", "scale": {"domain": [-0.523, 5.368], "nice": false, "zero": false}, "axis": {"orient": "right", "offset": -4, "tickSize": 4, "values": [0,1,2,3,4,5], "labelExpr": "['0.05','0.25','0.5','0.75','1.0','1.25'][datum.value]", "labelAngle": 90, "labelAlign": "center", "labelBaseline": "bottom", "labelFontSize": 13, "labelPadding": 9, "title": "r/rᵥᵢᵣ", "titleAngle": 90, "titleFontSize": 18, "titleY": 148, "titleBaseline": "bottom", "titlePadding": 0}},
  "y2": {"field": "hi"},
  "color": {"field": "r", "type": "nominal", "scale": {"domain": ["0.05-0.25","0.25-0.5","0.5-0.75","0.75-1.0","1.0-1.25"], "range": ["#472d7b","#31688e","#21a685","#a5db36","#fde725"]}, "legend": null}
 }},
{"mark": {"type": "rect", "fill": null, "filled": false, "stroke": "black", "strokeWidth": 1.5},
 "encoding": {"y": {"datum": 0, "type": "quantitative"}, "y2": {"datum": 5}}}
]
}
]
}
